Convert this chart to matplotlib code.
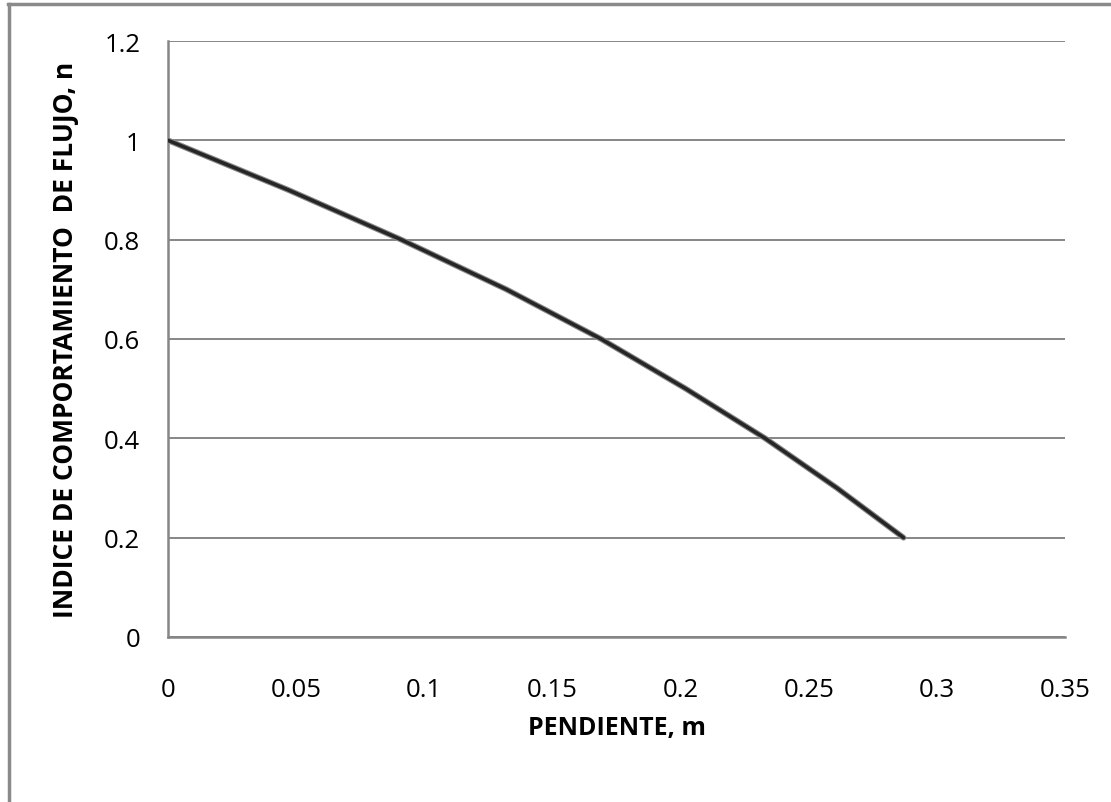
import matplotlib
matplotlib.use("Agg")
import matplotlib.pyplot as plt
from matplotlib.lines import Line2D

# data
pendiente_m = [0.0, 0.047, 0.091, 0.132, 0.169, 0.202, 0.233, 0.261, 0.287]
indice_n = [1.0, 0.9, 0.8, 0.7, 0.6, 0.5, 0.4, 0.3, 0.2]

x_ticks = [0, 0.05, 0.1, 0.15, 0.2, 0.25, 0.3, 0.35]
x_tick_labels = ["0", "0.05", "0.1", "0.15", "0.2", "0.25", "0.3", "0.35"]
y_ticks = [0, 0.2, 0.4, 0.6, 0.8, 1.0, 1.2]
y_tick_labels = ["0", "0.2", "0.4", "0.6", "0.8", "1", "1.2"]

plt.rcParams['font.family'] = ['Open Sans', 'DejaVu Sans']

fig = plt.figure(figsize=(11.11, 8.03), dpi=100)
ax = fig.add_axes([168/1111, 1 - 638/803, (1065-168)/1111, (638-42)/803])

#the curve, grey halo under dark line
ax.plot(pendiente_m, indice_n, color='#8a8a8a', linewidth=4.2, solid_capstyle='round', zorder=3)
ax.plot(pendiente_m, indice_n, color='#262626', linewidth=2.6, solid_capstyle='round', zorder=4)

ax.set_xlim(0, 0.35)
ax.set_ylim(0, 1.2)
ax.set_xticks(x_ticks)
ax.set_xticklabels(x_tick_labels)
ax.set_yticks(y_ticks)
ax.set_yticklabels(y_tick_labels)
ax.tick_params(axis='both', length=0, labelsize=18.5, colors='black')
ax.tick_params(axis='x', pad=29)
ax.tick_params(axis='y', pad=20)

ax.grid(True, axis='y', color='#868686', linewidth=1.4)
ax.set_axisbelow(True)
for side in ['top', 'right']:
    ax.spines[side].set_visible(False)
ax.spines['left'].set_color('#868686')
ax.spines['left'].set_linewidth(1.8)
ax.spines['bottom'].set_color('#868686')
ax.spines['bottom'].set_linewidth(1.8)

ax.set_xlabel("PENDIENTE, m", fontsize=18, fontweight='bold', labelpad=9)
ax.set_ylabel("INDICE DE COMPORTAMIENTO  DE FLUJO, n", fontsize=19, fontweight='bold', labelpad=18)

# outer chart border (top and left show in the picture)
fig.add_artist(Line2D([9/1111, 9/1111], [0, 1 - 5/803], transform=fig.transFigure, color='#8a8a8a', linewidth=2.5))
fig.add_artist(Line2D([8/1111, 1], [1 - 5/803, 1 - 5/803], transform=fig.transFigure, color='#8a8a8a', linewidth=2.5))

fig.savefig("out.png", dpi=100)
